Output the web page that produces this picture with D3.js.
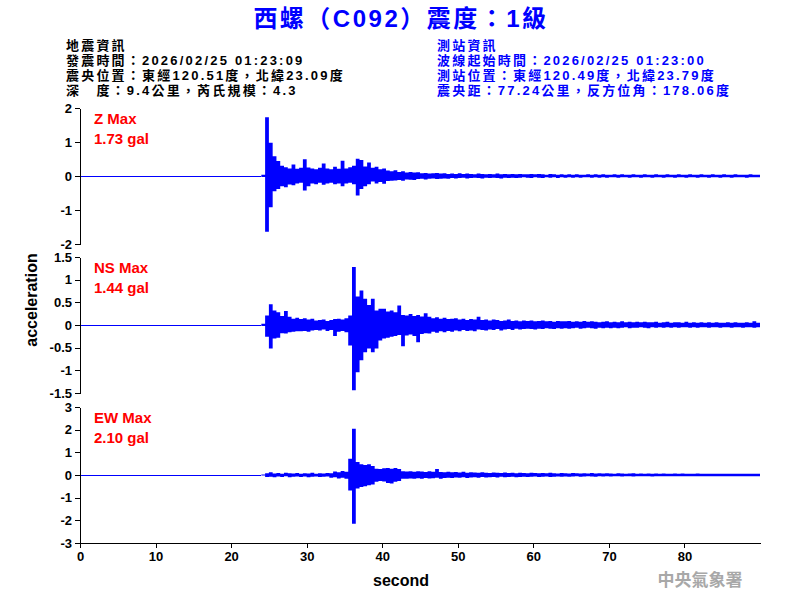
<!DOCTYPE html>
<meta charset="utf-8">
<style>
  body { margin: 0; background: #fff; }
  svg text { font-family: Arial, "Liberation Sans", "Noto Sans CJK TC", sans-serif; }
  .axis path, .axis line { stroke: #000; shape-rendering: crispEdges; }
  .axis text { font-size: 13px; font-weight: bold; fill: #000; }
  .trace { fill: #0000ff; stroke: none; }
  .flat { fill: none; stroke: #0000ff; stroke-width: 1; shape-rendering: crispEdges; }
  .maxlabel { fill: #ff0000; font-size: 15px; font-weight: bold; }
  .hdr { font-size: 13px; font-weight: bold; letter-spacing: 2.2px; }
</style>
<body>
<script src="https://d3js.org/d3.v7.min.js"></script>
<script>
// header text
var title = "西螺（C092）震度：1級";
var quakeInfo = ["地震資訊", "發震時間：2026/02/25 01:23:09", "震央位置：東經120.51度，北緯23.09度", "深　度：9.4公里，芮氏規模：4.3"];
var stationInfo = ["測站資訊", "波線起始時間：2026/02/25 01:23:00", "測站位置：東經120.49度，北緯23.79度", "震央距：77.24公里，反方位角：178.06度"];

// components
var comps = ["Z", "NS", "EW"];
var maxVals = ["1.73 gal", "1.44 gal", "2.10 gal"];
var yLimits = [2, 1.5, 3];
var zTicks = [-2, -1, 0, 1, 2];
var nsTicks = [-1.5, -1, -0.5, 0, 0.5, 1, 1.5];
var ewTicks = [-3, -2, -1, 0, 1, 2, 3];
var xTicks = [0, 10, 20, 30, 40, 50, 60, 70, 80];

// envelope of each record (max / min per 0.5 s bin, from onset to 90 s)
var onset = 24, binStep = 0.5;
var zHi = [0.04, 1.73, 0.98, 0.58, 0.44, 0.30, 0.26, 0.22, 0.34, 0.21,
  0.24, 0.49, 0.25, 0.22, 0.20, 0.24, 0.37, 0.22, 0.20, 0.27,
  0.21, 0.45, 0.22, 0.26, 0.30, 0.51, 0.47, 0.28, 0.40, 0.24,
  0.27, 0.20, 0.22, 0.16, 0.14, 0.17, 0.12, 0.14, 0.10, 0.12,
  0.10, 0.11, 0.08, 0.09, 0.07, 0.08, 0.09, 0.07, 0.08, 0.06,
  0.07, 0.06, 0.08, 0.06, 0.07, 0.06, 0.05, 0.07, 0.06, 0.05,
  0.06, 0.05, 0.07, 0.05, 0.06, 0.05, 0.06, 0.05, 0.06, 0.05,
  0.05, 0.06, 0.05, 0.06, 0.05, 0.04, 0.06, 0.05, 0.04, 0.05,
  0.04, 0.05, 0.04, 0.05, 0.04, 0.04, 0.05, 0.04, 0.05, 0.04,
  0.05, 0.04, 0.04, 0.05, 0.04, 0.05, 0.04, 0.04, 0.05, 0.04,
  0.04, 0.05, 0.04, 0.04, 0.05, 0.04, 0.04, 0.05, 0.04, 0.04,
  0.05, 0.04, 0.04, 0.05, 0.04, 0.04, 0.05, 0.04, 0.04, 0.05,
  0.04, 0.04, 0.05, 0.04, 0.04, 0.05, 0.04, 0.04, 0.04, 0.05, 0.04, 0.04];
var zLo = [-0.03, -1.64, -0.92, -0.45, -0.38, -0.30, -0.33, -0.25, -0.27, -0.22,
  -0.20, -0.43, -0.30, -0.22, -0.24, -0.20, -0.26, -0.22, -0.20, -0.24,
  -0.22, -0.30, -0.22, -0.20, -0.24, -0.57, -0.38, -0.30, -0.24, -0.16,
  -0.22, -0.18, -0.23, -0.15, -0.14, -0.13, -0.12, -0.14, -0.10, -0.11,
  -0.12, -0.09, -0.08, -0.10, -0.08, -0.07, -0.09, -0.08, -0.07, -0.08,
  -0.06, -0.07, -0.06, -0.05, -0.07, -0.06, -0.05, -0.06, -0.07, -0.05,
  -0.06, -0.05, -0.06, -0.07, -0.05, -0.06, -0.05, -0.06, -0.05, -0.04,
  -0.05, -0.06, -0.04, -0.05, -0.06, -0.04, -0.05, -0.04, -0.06, -0.04,
  -0.05, -0.04, -0.05, -0.04, -0.05, -0.04, -0.04, -0.05, -0.04, -0.05,
  -0.04, -0.05, -0.04, -0.04, -0.05, -0.04, -0.04, -0.05, -0.04, -0.04,
  -0.05, -0.04, -0.04, -0.05, -0.04, -0.04, -0.05, -0.04, -0.04, -0.05,
  -0.04, -0.04, -0.05, -0.04, -0.04, -0.05, -0.04, -0.04, -0.05, -0.04,
  -0.04, -0.05, -0.04, -0.04, -0.05, -0.04, -0.04, -0.04, -0.05, -0.04, -0.04, -0.04];
var nsHi = [0.03, 0.21, 0.46, 0.32, 0.28, 0.20, 0.31, 0.18, 0.14, 0.16,
  0.13, 0.15, 0.12, 0.14, 0.10, 0.11, 0.12, 0.09, 0.11, 0.13,
  0.14, 0.12, 0.15, 0.21, 1.28, 0.63, 0.76, 0.58, 0.44, 0.58,
  0.32, 0.36, 0.36, 0.30, 0.32, 0.28, 0.43, 0.22, 0.21, 0.24,
  0.20, 0.22, 0.19, 0.26, 0.18, 0.15, 0.17, 0.14, 0.16, 0.13,
  0.14, 0.15, 0.12, 0.14, 0.11, 0.13, 0.12, 0.18, 0.11, 0.12,
  0.10, 0.12, 0.11, 0.09, 0.10, 0.12, 0.09, 0.10, 0.08, 0.10,
  0.09, 0.10, 0.08, 0.09, 0.10, 0.08, 0.09, 0.07, 0.09, 0.08,
  0.08, 0.09, 0.07, 0.08, 0.07, 0.09, 0.07, 0.08, 0.07, 0.06,
  0.07, 0.08, 0.06, 0.07, 0.06, 0.08, 0.06, 0.07, 0.06, 0.07,
  0.06, 0.07, 0.06, 0.06, 0.07, 0.05, 0.06, 0.07, 0.05, 0.06,
  0.06, 0.05, 0.07, 0.05, 0.06, 0.05, 0.06, 0.05, 0.06, 0.05,
  0.06, 0.05, 0.05, 0.06, 0.05, 0.06, 0.05, 0.05, 0.06, 0.05, 0.08, 0.05];
var nsLo = [-0.02, -0.26, -0.52, -0.30, -0.28, -0.18, -0.19, -0.16, -0.15, -0.14,
  -0.14, -0.13, -0.15, -0.12, -0.11, -0.12, -0.10, -0.13, -0.11, -0.24,
  -0.15, -0.13, -0.16, -0.45, -1.44, -1.04, -0.78, -0.60, -0.52, -0.60,
  -0.52, -0.34, -0.30, -0.28, -0.26, -0.24, -0.22, -0.47, -0.23, -0.21,
  -0.24, -0.38, -0.20, -0.18, -0.19, -0.15, -0.17, -0.14, -0.16, -0.13,
  -0.15, -0.12, -0.14, -0.11, -0.13, -0.12, -0.14, -0.10, -0.11, -0.12,
  -0.10, -0.11, -0.09, -0.12, -0.10, -0.09, -0.11, -0.08, -0.10, -0.09,
  -0.08, -0.09, -0.10, -0.08, -0.09, -0.07, -0.08, -0.09, -0.07, -0.08,
  -0.07, -0.08, -0.07, -0.06, -0.08, -0.07, -0.06, -0.07, -0.08, -0.06,
  -0.07, -0.06, -0.07, -0.06, -0.07, -0.06, -0.05, -0.07, -0.06, -0.06,
  -0.05, -0.06, -0.07, -0.05, -0.06, -0.05, -0.06, -0.05, -0.06, -0.05,
  -0.06, -0.05, -0.05, -0.06, -0.05, -0.06, -0.05, -0.05, -0.06, -0.05,
  -0.05, -0.06, -0.05, -0.05, -0.06, -0.05, -0.05, -0.06, -0.05, -0.05, -0.06, -0.05];
var ewHi = [0.02, 0.08, 0.12, 0.07, 0.09, 0.06, 0.10, 0.08, 0.07, 0.09,
  0.06, 0.08, 0.07, 0.10, 0.06, 0.08, 0.07, 0.09, 0.08, 0.15,
  0.12, 0.18, 0.14, 0.72, 2.04, 0.57, 0.47, 0.44, 0.47, 0.40,
  0.28, 0.26, 0.30, 0.31, 0.28, 0.31, 0.26, 0.17, 0.15, 0.17,
  0.14, 0.17, 0.15, 0.13, 0.16, 0.14, 0.26, 0.13, 0.12, 0.14,
  0.12, 0.13, 0.11, 0.14, 0.10, 0.12, 0.11, 0.10, 0.12, 0.10,
  0.09, 0.11, 0.10, 0.09, 0.11, 0.09, 0.10, 0.08, 0.10, 0.09,
  0.08, 0.10, 0.09, 0.08, 0.09, 0.08, 0.10, 0.08, 0.07, 0.09,
  0.08, 0.07, 0.09, 0.08, 0.07, 0.08, 0.07, 0.09, 0.07, 0.08,
  0.07, 0.08, 0.07, 0.06, 0.08, 0.07, 0.06, 0.07, 0.08, 0.06,
  0.07, 0.06, 0.07, 0.06, 0.07, 0.06, 0.07, 0.06, 0.06, 0.07,
  0.06, 0.07, 0.06, 0.06, 0.05, 0.07, 0.06, 0.05, 0.06, 0.06,
  0.05, 0.06, 0.06, 0.05, 0.06, 0.05, 0.06, 0.05, 0.05, 0.06, 0.05, 0.05];
var ewLo = [-0.02, -0.09, -0.08, -0.10, -0.07, -0.09, -0.06, -0.10, -0.08, -0.07,
  -0.09, -0.07, -0.10, -0.08, -0.07, -0.09, -0.08, -0.07, -0.12, -0.10,
  -0.15, -0.12, -0.16, -0.68, -2.15, -0.60, -0.53, -0.50, -0.45, -0.42,
  -0.30, -0.26, -0.29, -0.35, -0.38, -0.30, -0.27, -0.17, -0.16, -0.15,
  -0.17, -0.14, -0.16, -0.13, -0.15, -0.14, -0.12, -0.16, -0.13, -0.12,
  -0.13, -0.11, -0.12, -0.10, -0.13, -0.11, -0.10, -0.12, -0.09, -0.11,
  -0.10, -0.09, -0.11, -0.08, -0.10, -0.09, -0.08, -0.10, -0.09, -0.08,
  -0.09, -0.08, -0.07, -0.09, -0.08, -0.07, -0.09, -0.08, -0.07, -0.08,
  -0.07, -0.08, -0.07, -0.06, -0.08, -0.07, -0.06, -0.07, -0.08, -0.06,
  -0.07, -0.06, -0.07, -0.06, -0.06, -0.07, -0.06, -0.05, -0.07, -0.06,
  -0.06, -0.05, -0.06, -0.07, -0.05, -0.06, -0.05, -0.06, -0.05, -0.06,
  -0.05, -0.06, -0.05, -0.06, -0.05, -0.05, -0.06, -0.05, -0.05, -0.06,
  -0.05, -0.05, -0.06, -0.05, -0.05, -0.06, -0.05, -0.05, -0.06, -0.05, -0.05, -0.05];

var hiSeries = [zHi, nsHi, ewHi];
var loSeries = [zLo, nsLo, ewLo];
var tickSets = [zTicks, nsTicks, ewTicks];

var width = 800, height = 600;
var panelTops = [108, 257, 407], panelH = 136;

var svg = d3.select("body").append("svg")
    .attr("width", width)
    .attr("height", height);

var x = d3.scaleLinear().domain([0, 90]).range([80, 760]);

// title
svg.append("text")
    .attr("x", 401).attr("y", 27)
    .attr("text-anchor", "middle")
    .style("font-size", "24px").style("font-weight", "bold")
    .style("letter-spacing", "2.5px")
    .style("fill", "#0000ff")
    .text(title);

svg.append("g").selectAll("text")
    .data(quakeInfo).enter().append("text")
    .attr("class", "hdr")
    .attr("x", 66)
    .attr("y", function (d, i) { return 50 + i * 15; })
    .style("fill", "#000")
    .text(function (d) { return d; });

svg.append("g").selectAll("text")
    .data(stationInfo).enter().append("text")
    .attr("class", "hdr")
    .attr("x", 437)
    .attr("y", function (d, i) { return 50 + i * 15; })
    .style("fill", "#0000ff")
    .text(function (d) { return d; });

comps.forEach(function (c, k) {
  var top = panelTops[k];
  var y = d3.scaleLinear().domain([-yLimits[k], yLimits[k]]).range([top + panelH, top]);

  // quiet record before onset
  svg.append("path")
      .datum([0, onset])
      .attr("class", "flat")
      .attr("d", d3.line().x(function (d) { return x(d); }).y(y(0)));

  // max/min band per bin
  var pts = hiSeries[k].map(function (v, i) {
    return [onset + i * binStep, v, loSeries[k][i]];
  });
  var last = hiSeries[k].length - 1;
  pts.push([onset + (last + 1) * binStep, hiSeries[k][last], loSeries[k][last]]);

  var band = d3.area()
      .curve(d3.curveStepAfter)
      .x(function (d) { return x(d[0]); })
      .y0(function (d) { return y(d[2]); })
      .y1(function (d) { return y(d[1]); });

  svg.append("path")
      .datum(pts)
      .attr("class", "trace")
      .attr("d", band);

  svg.append("g")
      .attr("class", "axis")
      .attr("transform", "translate(80,0)")
      .call(d3.axisLeft(y).tickValues(tickSets[k]).tickSize(5).tickSizeOuter(0).tickPadding(3)
        .tickFormat(function (d) { return String(d); }));

  svg.append("text")
      .attr("class", "maxlabel")
      .attr("x", 94).attr("y", top + 15.5)
      .text(c + " Max");
  svg.append("text")
      .attr("class", "maxlabel")
      .attr("x", 94).attr("y", top + 35.5)
      .text(maxVals[k]);
});

svg.append("g")
    .attr("class", "axis")
    .attr("transform", "translate(0," + (panelTops[2] + panelH) + ")")
    .call(d3.axisBottom(x).tickValues(xTicks).tickSize(5).tickSizeOuter(0).tickPadding(4));

svg.append("text")
    .attr("transform", "translate(37,300) rotate(-90)")
    .attr("text-anchor", "middle")
    .style("font-size", "16px").style("font-weight", "bold")
    .text("acceleration");

svg.append("text")
    .attr("x", 401).attr("y", 586)
    .attr("text-anchor", "middle")
    .style("font-size", "16px").style("font-weight", "bold")
    .text("second");

svg.append("text")
    .attr("x", 700).attr("y", 586)
    .attr("text-anchor", "middle")
    .style("font-size", "17px").style("font-weight", "bold")
    .style("fill", "#a8a8a8")
    .text("中央氣象署");
</script>
</body>
</html>
